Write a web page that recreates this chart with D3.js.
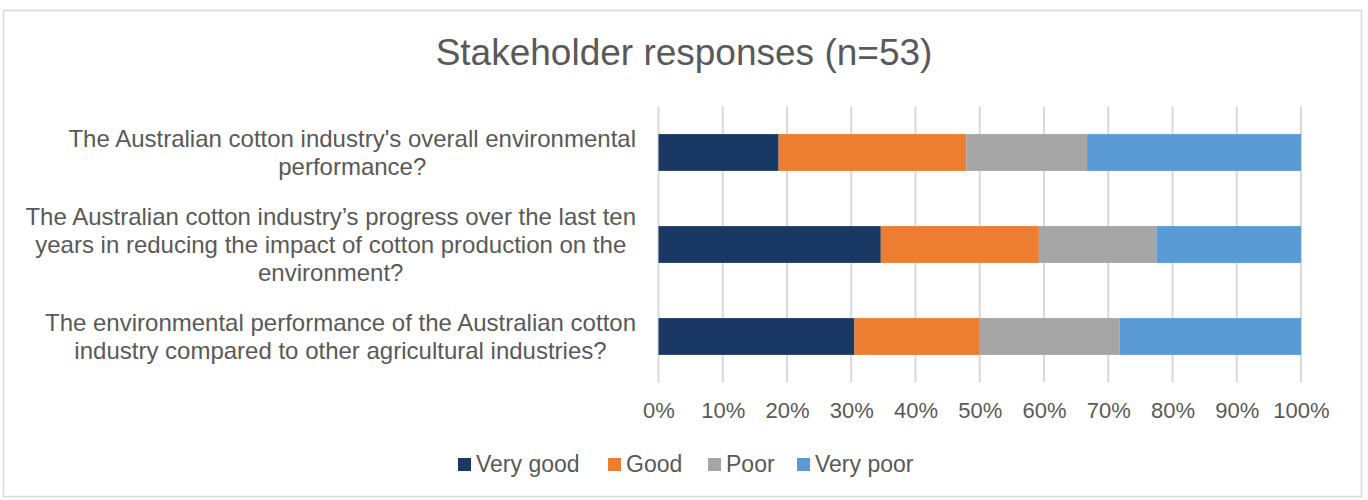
<!DOCTYPE html>
<html>
<head>
<meta charset="utf-8">
<script src="https://cdn.jsdelivr.net/npm/d3@7"></script>
<style>
  html, body { margin: 0; padding: 0; background: #fff; }
  svg { display: block; font-family: "Liberation Sans", Arial, sans-serif; }
</style>
</head>
<body>
<svg id="chart" width="1368" height="500"></svg>
<script>
// Survey questions (top to bottom), each split over display lines
const questions = [
  ["The Australian cotton industry's overall environmental", "performance?"],
  ["The Australian cotton industry\u2019s progress over the last ten", "years in reducing the impact of cotton production on the", "environment?"],
  ["The environmental performance of the Australian cotton", "industry compared to other agricultural industries?"]
];
const seriesNames = ["Very good", "Good", "Poor", "Very poor"];
const seriesColors = ["#1a3864", "#ed7d31", "#a5a5a5", "#5b9bd5"];
// Share of responses per question (percent), in question order
const veryGood = [18.7, 34.6, 30.5];
const good     = [29.2, 24.6, 19.5];
const poor     = [18.8, 18.3, 21.8];
const veryPoor = [33.3, 22.5, 28.2];
const tickValues = [0, 10, 20, 30, 40, 50, 60, 70, 80, 90, 100];
const title = "Stakeholder responses (n=53)";

const svg = d3.select("#chart");
const textColor = "#595959";

// outer frame
svg.append("rect")
  .attr("x", 3.5).attr("y", 10.5).attr("width", 1358).attr("height", 486)
  .attr("fill", "#fff").attr("stroke", "#d9d9d9").attr("stroke-width", 1.5);

svg.append("text")
  .attr("x", 684).attr("y", 65)
  .attr("text-anchor", "middle")
  .attr("font-size", 37)
  .attr("fill", textColor)
  .text(title);

const plot = { left: 658.5, right: 1301, top: 106.5, bottom: 382.5 };

const x = d3.scaleLinear().domain([0, 100]).range([plot.left, plot.right]);
const y = d3.scaleBand()
  .domain(d3.range(questions.length))
  .range([plot.top, plot.bottom])
  .paddingInner(0.6).paddingOuter(0.3);

// vertical gridlines
svg.append("g")
  .selectAll("line")
  .data(tickValues)
  .join("line")
  .attr("x1", d => x(d)).attr("x2", d => x(d))
  .attr("y1", plot.top).attr("y2", plot.bottom)
  .attr("stroke", "#d9d9d9").attr("stroke-width", 2);

// stacked bars
const rows = questions.map((q, i) => ({
  i, values: [veryGood[i], good[i], poor[i], veryPoor[i]]
}));
const stack = d3.stack().keys([0, 1, 2, 3]).value((d, k) => d.values[k]);
const layers = stack(rows);

svg.append("g")
  .selectAll("g")
  .data(layers)
  .join("g")
  .attr("fill", (d, k) => seriesColors[k])
  .selectAll("rect")
  .data(d => d)
  .join("rect")
  .attr("x", d => x(d[0]))
  .attr("width", d => x(d[1]) - x(d[0]))
  .attr("y", d => y(d.data.i))
  .attr("height", y.bandwidth());

// x axis labels
const xAxis = d3.axisBottom(x)
  .tickValues(tickValues)
  .tickFormat(d => d + "%")
  .tickSize(0).tickPadding(0);
const gx = svg.append("g")
  .attr("transform", `translate(0,${plot.bottom + 20})`)
  .call(xAxis);
gx.select(".domain").remove();
gx.selectAll("text")
  .attr("font-size", 22)
  .attr("font-family", "Liberation Sans, Arial, sans-serif")
  .attr("fill", textColor)
  .attr("dy", "0.71em");

// category labels: each block ends just left of the plot, lines centred in the block
const lineH = 28;
const labelRight = 636;
const labels = svg.append("g");
questions.forEach((lines, i) => {
  const cy = y(i) + y.bandwidth() / 2;
  const t = labels.append("text")
    .attr("text-anchor", "middle")
    .attr("font-size", 24)
    .attr("fill", textColor);
  const spans = lines.map((ln, j) => t.append("tspan")
    .attr("y", cy + (j - (lines.length - 1) / 2) * lineH)
    .attr("dy", "0.35em")
    .text(ln));
  const maxW = d3.max(spans, s => s.node().getComputedTextLength());
  spans.forEach(s => s.attr("x", labelRight - maxW / 2));
});

// legend
const legendX = [458, 608, 708, 797];
const legend = svg.append("g");
seriesNames.forEach((name, k) => {
  legend.append("rect")
    .attr("x", legendX[k]).attr("y", 458)
    .attr("width", 13).attr("height", 13)
    .attr("fill", seriesColors[k]);
  legend.append("text")
    .attr("x", legendX[k] + 18).attr("y", 472)
    .attr("font-size", 23)
    .attr("fill", textColor)
    .text(name);
});
</script>
</body>
</html>
